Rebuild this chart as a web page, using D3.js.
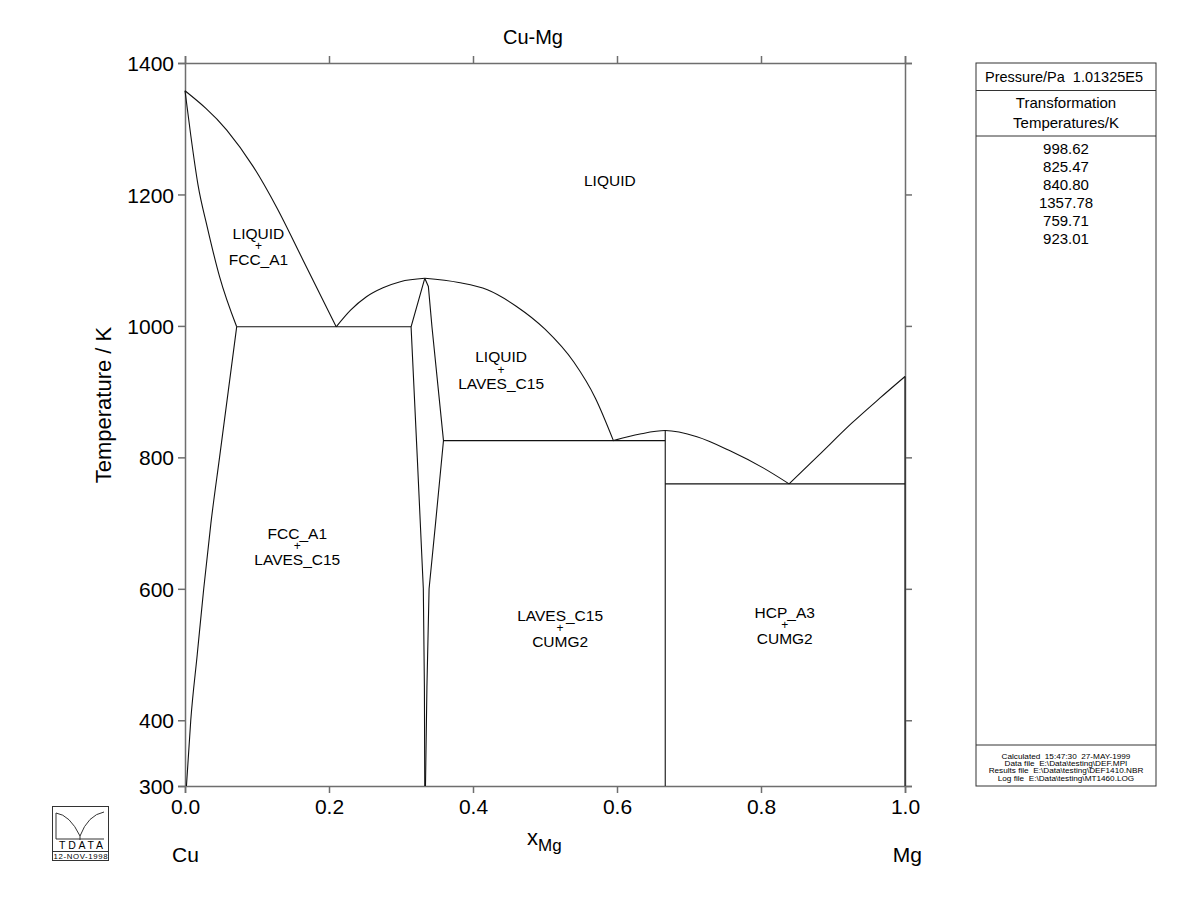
<!DOCTYPE html>
<html>
<head>
<meta charset="utf-8">
<script src="https://cdn.jsdelivr.net/npm/d3@7"></script>
<style>
  body { margin: 0; background: #fff; }
  svg { font-family: "Liberation Sans", Arial, sans-serif; }
</style>
</head>
<body>
<svg id="chart" width="1200" height="923"></svg>
<script>
"use strict";

// invariant temperatures (K), as listed in the side panel
const transformationTemps = [998.62, 825.47, 840.80, 1357.78, 759.71, 923.01];
const xTicks = [0, 0.2, 0.4, 0.6, 0.8, 1.0];
const yTicks = [300, 400, 600, 800, 1000, 1200, 1400];

// phase boundaries, [x_Mg, T/K], x ascending for the smooth ones
const liquidusCu = [[0, 1357.78], [0.058, 1298], [0.095, 1242], [0.127, 1181], [0.164, 1100], [0.21, 998.62]];
const solidusFcc = [[0, 1357.78], [0.008, 1290], [0.018, 1215], [0.031, 1150], [0.048, 1075], [0.0718, 998.62]];
const solvusFcc = [[0.002, 300], [0.008, 400], [0.017, 500], [0.026, 600], [0.036, 700], [0.048, 800], [0.06, 900], [0.0718, 998.62]];
const liquidusLavesL = [[0.21, 998.62], [0.23, 1024], [0.252, 1044.4], [0.275, 1058], [0.299, 1067.3], [0.333, 1072.4]];
const liquidusLavesR = [[0.333, 1072.4], [0.38, 1066], [0.42, 1055], [0.46, 1030], [0.50, 995], [0.54, 945], [0.57, 890], [0.595, 825.47]];
const liquidusCuMg2 = [[0.595, 825.47], [0.632, 835.5], [0.667, 840.8], [0.711, 831.4], [0.757, 810], [0.803, 784], [0.839, 759.71]];
const liquidusMg = [[0.839, 759.71], [0.88, 803], [0.926, 852], [0.965, 890], [1.0, 923.01]];
// Laves phase field edges (kinked, drawn straight)
const lavesLeft = [[0.333, 1072.4], [0.314, 998.62], [0.3226, 800], [0.331, 600], [0.3325, 450], [0.333, 300]];
const lavesRight = [[0.333, 1072.4], [0.338, 1060], [0.343, 998.62], [0.359, 825.47], [0.348, 700], [0.339, 600], [0.336, 450], [0.334, 300]];
const cuMg2Line = [[0.667, 840.8], [0.667, 300]];
const mgLine = [[1.0, 923.01], [1.0, 300]];
const eutecticFcc = [[0.0718, 998.62], [0.314, 998.62]];
const peritecticLaves = [[0.359, 825.47], [0.667, 825.47]];
const eutecticMg = [[0.667, 759.71], [1.0, 759.71]];

// two-phase field labels: [x_Mg, T/K at the "+", top line, bottom line]
const fieldLabels = [
  [0.102, 1121.6, "LIQUID", "FCC_A1"],
  [0.439, 933.7, "LIQUID", "LAVES_C15"],
  [0.156, 665.9, "FCC_A1", "LAVES_C15"],
  [0.521, 541.1, "LAVES_C15", "CUMG2"],
  [0.833, 545.7, "HCP_A3", "CUMG2"]
];

const footerLines = [
  "Calculated  15:47:30  27-MAY-1999",
  "Data file  E:\\Data\\testing\\DEF.MPI",
  "Results file  E:\\Data\\testing\\DEF1410.NBR",
  "Log file  E:\\Data\\testing\\MT1460.LOG"
];

const svg = d3.select("#chart");
const mLeft = 185, mRight = 905, mTop = 63, mBottom = 786;
const x = d3.scaleLinear().domain([0, 1]).range([mLeft, mRight]);
const y = d3.scaleLinear().domain([300, 1400]).range([mBottom, mTop]);
const axisCol = "#6e6e6e";

// frame axes, ticks pointing outwards
function styleAxis(g) {
  g.selectAll("path.domain").attr("stroke", axisCol).attr("stroke-width", 1.5);
  g.selectAll(".tick line").attr("stroke", axisCol).attr("stroke-width", 1.5);
  g.selectAll(".tick text").attr("font-size", 21).attr("fill", "#000")
    .attr("font-family", "Liberation Sans, Arial, sans-serif").attr("dy", null);
}
const gx = svg.append("g").attr("transform", "translate(0," + mBottom + ")")
  .call(d3.axisBottom(x).tickValues(xTicks).tickFormat(d3.format(".1f")).tickSizeOuter(0).tickSize(7))
  .call(styleAxis);
gx.selectAll(".tick text").attr("y", 28);
svg.append("g").attr("transform", "translate(0," + mTop + ")")
  .call(d3.axisTop(x).tickValues(xTicks).tickFormat("").tickSizeOuter(0).tickSize(7))
  .call(styleAxis);
const gy = svg.append("g").attr("transform", "translate(" + mLeft + ",0)")
  .call(d3.axisLeft(y).tickValues(yTicks).tickFormat(d3.format("d")).tickSizeOuter(0).tickSize(7).tickPadding(4))
  .call(styleAxis);
gy.selectAll(".tick text").attr("dy", "0.36em");
svg.append("g").attr("transform", "translate(" + mRight + ",0)")
  .call(d3.axisRight(y).tickValues(yTicks).tickFormat("").tickSizeOuter(0).tickSize(7))
  .call(styleAxis);

// phase boundaries
const smooth = d3.line().x(d => x(d[0])).y(d => y(d[1])).curve(d3.curveMonotoneX);
const straight = d3.line().x(d => x(d[0])).y(d => y(d[1]));
const plot = svg.append("g").attr("fill", "none").attr("stroke", "#111").attr("stroke-width", 1.1);
[liquidusCu, solidusFcc, solvusFcc, liquidusLavesL, liquidusLavesR, liquidusCuMg2, liquidusMg].forEach(function(d) {
  plot.append("path").attr("d", smooth(d));
});
[lavesLeft, lavesRight, cuMg2Line, mgLine, eutecticFcc, peritecticLaves, eutecticMg].forEach(function(d) {
  plot.append("path").attr("d", straight(d));
});

// labels
svg.append("text").attr("x", x(0.59)).attr("y", y(1213)).attr("text-anchor", "middle").attr("font-size", 15.5).text("LIQUID");
fieldLabels.forEach(function(l) {
  const g = svg.append("g").attr("font-size", 15.5).attr("text-anchor", "middle");
  const cy = y(l[1]);
  g.append("text").attr("x", x(l[0])).attr("y", cy - 7).text(l[2]);
  g.append("text").attr("x", x(l[0])).attr("y", cy + 4.5).attr("font-size", 12).text("+");
  g.append("text").attr("x", x(l[0])).attr("y", cy + 19.5).text(l[3]);
});

svg.append("text").attr("x", 533).attr("y", 44).attr("text-anchor", "middle").attr("font-size", 20).text("Cu-Mg");
svg.append("text").attr("transform", "translate(111,405) rotate(-90)").attr("text-anchor", "middle").attr("font-size", 22).text("Temperature / K");
const xl = svg.append("text").attr("x", 527).attr("y", 845).attr("font-size", 22);
xl.append("tspan").text("x");
xl.append("tspan").attr("font-size", 17).attr("dy", 6).text("Mg");
svg.append("text").attr("x", 172).attr("y", 862).attr("font-size", 21).text("Cu");
svg.append("text").attr("x", 922).attr("y", 862).attr("text-anchor", "end").attr("font-size", 21).text("Mg");

// side panel
const bx = 976, bw = 180;
const panel = svg.append("g");
panel.append("rect").attr("x", bx).attr("y", 63).attr("width", bw).attr("height", mBottom - 63)
  .attr("fill", "none").attr("stroke", "#333").attr("stroke-width", 1);
[90.5, 136, 745].forEach(function(v) {
  panel.append("line").attr("x1", bx).attr("x2", bx + bw).attr("y1", v).attr("y2", v).attr("stroke", "#333");
});
panel.append("text").attr("x", bx + 9).attr("y", 82).attr("font-size", 14.5).style("white-space", "pre").text("Pressure/Pa  1.01325E5");
panel.append("text").attr("x", bx + bw / 2).attr("y", 108).attr("text-anchor", "middle").attr("font-size", 15).text("Transformation");
panel.append("text").attr("x", bx + bw / 2).attr("y", 128).attr("text-anchor", "middle").attr("font-size", 15).text("Temperatures/K");
transformationTemps.forEach(function(t, i) {
  panel.append("text").attr("x", bx + bw / 2).attr("y", 154 + i * 18).attr("text-anchor", "middle").attr("font-size", 15).text(t.toFixed(2));
});
footerLines.forEach(function(s, i) {
  const t = panel.append("text").attr("x", bx + bw / 2).attr("y", 759 + i * 7.2).attr("text-anchor", "middle")
    .attr("font-size", 6.3).style("white-space", "pre").text(s);
  t.attr("textLength", t.node().getComputedTextLength() * 1.3).attr("lengthAdjust", "spacingAndGlyphs");
});

// TDATA logo
const logo = svg.append("g").attr("fill", "none").attr("stroke", "#333").attr("stroke-width", 1);
logo.append("rect").attr("x", 52.5).attr("y", 806.5).attr("width", 56).attr("height", 54);
logo.append("line").attr("x1", 52.5).attr("x2", 108.5).attr("y1", 851.5).attr("y2", 851.5);
logo.append("path").attr("d", "M56,813 V839 M56,813 Q70,815 80,836 Q88,815 104,812 M80,836 V840 M56,839 H104");
svg.append("text").attr("x", 81).attr("y", 849).attr("text-anchor", "middle").attr("font-size", 10.5).attr("textLength", 44).text("TDATA");
svg.append("text").attr("x", 80.5).attr("y", 859).attr("text-anchor", "middle").attr("font-size", 7.8).attr("textLength", 54).text("12-NOV-1998");
</script>
</body>
</html>
